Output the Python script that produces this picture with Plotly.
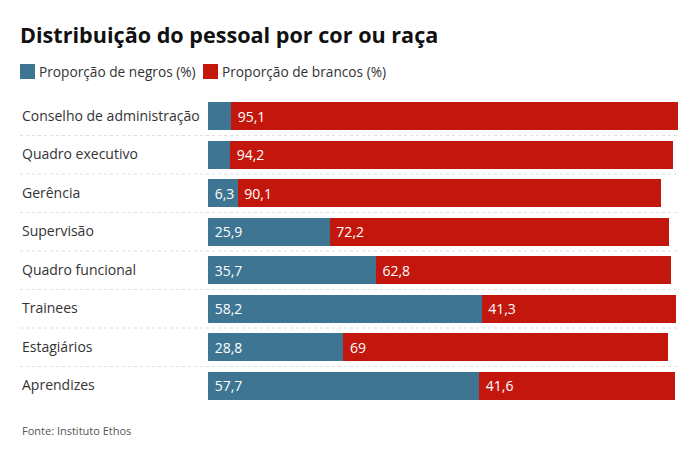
import plotly.graph_objects as go

# Distribuição do pessoal por cor ou raça (Instituto Ethos)
categorias = [
    "Conselho de administração",
    "Quadro executivo",
    "Gerência",
    "Supervisão",
    "Quadro funcional",
    "Trainees",
    "Estagiários",
    "Aprendizes",
]
negros = [4.9, 4.7, 6.3, 25.9, 35.7, 58.2, 28.8, 57.7]
brancos = [95.1, 94.2, 90.1, 72.2, 62.8, 41.3, 69, 41.6]
series = ["Proporção de negros (%)", "Proporção de brancos (%)"]

AZUL = "#3e7593"
VERMELHO = "#c3170e"
FONTE = "Open Sans"

# a página tem 8px de margem no body: a figura começa em (8, 8)
W, H = 692, 462
L, R, T, B = 200, 22, 89, 65
PW, PH = W - L - R, H - T - B


def px(x):
    """coordenada x da página -> paper"""
    return (x - 8 - L) / PW


def py(y):
    """coordenada y da página -> paper"""
    return 1 - (y - 8 - T) / PH


def rotulo(v):
    # valores pequenos demais ficam sem rótulo, como no original
    if v < 5:
        return ""
    return " " + f"{v:g}".replace(".", ",")


fig = go.Figure()
for nome, vals, cor in [(series[0], negros, AZUL), (series[1], brancos, VERMELHO)]:
    fig.add_trace(go.Bar(
        y=categorias, x=vals, orientation="h", name=nome,
        marker=dict(color=cor, line=dict(width=0)),
        text=[rotulo(v) for v in vals],
        textposition="inside", insidetextanchor="start",
        textfont=dict(color="white", size=14, family=FONTE),
        hoverinfo="x+y", showlegend=False,
    ))

shapes = []
# separadores pontilhados entre as linhas
for i in range(len(categorias) - 1):
    shapes.append(dict(type="line", xref="paper", yref="y",
                       x0=px(20), x1=px(679), y0=i + 0.5, y1=i + 0.5,
                       line=dict(color="#dedede", width=1, dash="dot")))

annotations = []
# nomes das categorias alinhados à esquerda
for c in categorias:
    annotations.append(dict(
        text=c, xref="paper", yref="y", x=px(20), y=c, xanchor="left",
        yshift=1, showarrow=False,
        font=dict(size=14, color="#333333", family=FONTE)))

# legenda compacta como no original
for nome, cor, x0, xt in [(series[0], AZUL, 20, 37), (series[1], VERMELHO, 203, 220)]:
    shapes.append(dict(type="rect", xref="paper", yref="paper",
                       x0=px(x0), x1=px(x0 + 15), y0=py(64), y1=py(79),
                       fillcolor=cor, line=dict(width=0)))
    annotations.append(dict(
        text=nome, xref="paper", yref="paper", x=px(xt), y=py(71.5),
        xanchor="left", yanchor="middle", showarrow=False,
        font=dict(size=13.7, color="#333333", family=FONTE)))

annotations.append(dict(
    text="Fonte: Instituto Ethos", xref="paper", yref="paper",
    x=px(20), y=py(430), xanchor="left", yanchor="middle", showarrow=False,
    font=dict(size=11, color="#555555", family=FONTE)))

fig.update_layout(
    width=W, height=H,
    barmode="stack", bargap=0.27,
    margin=dict(l=L, r=R, t=T, b=B),
    paper_bgcolor="white", plot_bgcolor="white",
    title=dict(text="<b>Distribuição do pessoal por cor ou raça</b>",
               xref="container", x=12 / W, xanchor="left",
               yref="container", y=1 - 27 / H, yanchor="middle",
               font=dict(size=21.6, color="#111111", family=FONTE)),
    xaxis=dict(range=[0, 100], visible=False, fixedrange=True),
    yaxis=dict(categoryorder="array", categoryarray=categorias,
               range=[7.5, -0.5], showticklabels=False, showgrid=False,
               zeroline=False, fixedrange=True),
    shapes=shapes, annotations=annotations,
)

fig.write_html("out.html")
